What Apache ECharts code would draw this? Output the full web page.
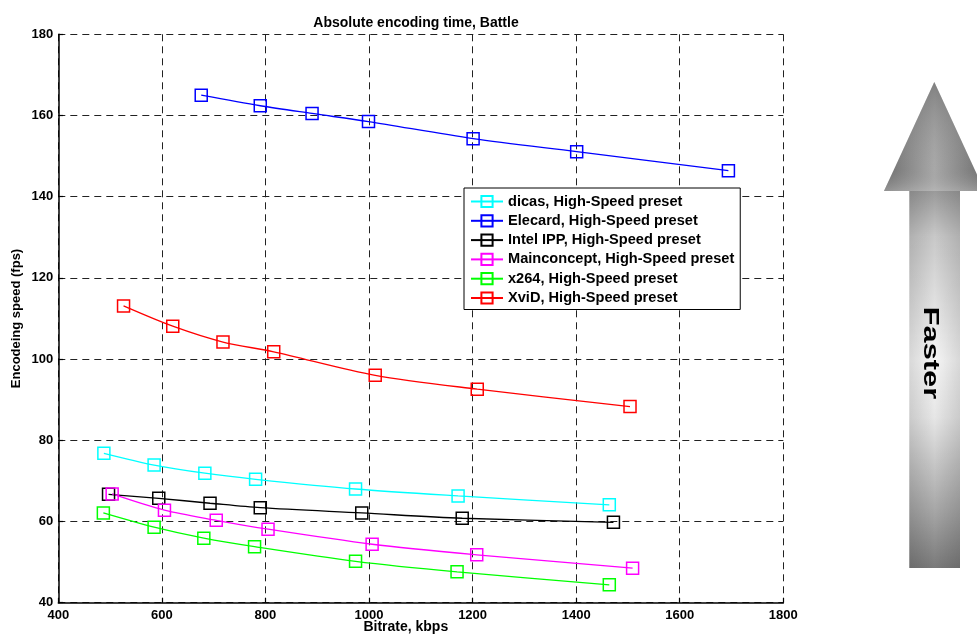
<!DOCTYPE html>
<html>
<head>
<meta charset="utf-8">
<script src="https://cdn.jsdelivr.net/npm/echarts@6/dist/echarts.min.js"></script>
<style>html,body{margin:0;padding:0;background:#fff;}#c{width:977px;height:637px;}</style>
</head>
<body>
<div id="c"></div>
<script>
var FONT = '"Liberation Sans", Arial, Helvetica, sans-serif';
var titleText = 'Absolute encoding time, Battle';
var xName = 'Bitrate, kbps';
var yName = 'Encodeing speed (fps)';
var arrowText = 'Faster';
var seriesNames = ['dicas, High-Speed preset','Elecard, High-Speed preset','Intel IPP, High-Speed preset','Mainconcept, High-Speed preset','x264, High-Speed preset','XviD, High-Speed preset'];
var seriesColors = ['#00ffff','#0000ff','#000000','#ff00ff','#00ff00','#ff0000'];

var dicasX = [488, 585, 683, 781, 974, 1172, 1464];
var dicasY = [76.8, 73.9, 71.9, 70.4, 68.0, 66.3, 64.1];
var elecardX = [676, 790, 890, 999, 1201, 1401, 1694];
var elecardY = [165.0, 162.4, 160.5, 158.5, 154.3, 151.1, 146.4];
var intelX = [497, 594, 693, 790, 986, 1180, 1472];
var intelY = [66.7, 65.7, 64.5, 63.4, 62.1, 60.8, 59.8];
var mainX = [504, 605, 705, 805, 1006, 1208, 1509];
var mainY = [66.8, 62.8, 60.3, 58.1, 54.4, 51.8, 48.5];
var x264X = [487, 585, 681, 779, 974, 1170, 1464];
var x264Y = [62.1, 58.6, 55.9, 53.8, 50.2, 47.6, 44.4];
var xvidX = [526, 621, 718, 816, 1012, 1209, 1504];
var xvidY = [113.1, 108.1, 104.2, 101.8, 96.0, 92.6, 88.3];

var allX = [dicasX, elecardX, intelX, mainX, x264X, xvidX];
var allY = [dicasY, elecardY, intelY, mainY, x264Y, xvidY];

function pairs(xs, ys){ return xs.map(function(x,i){ return [x, ys[i]]; }); }

var series = seriesNames.map(function(n, k){
  return {
    name: n, type: 'line', data: pairs(allX[k], allY[k]),
    smooth: 0.3, symbol: 'rect', symbolSize: 12,
    lineStyle: {color: seriesColors[k], width: 1.3},
    itemStyle: {color: 'rgba(255,255,255,0)', borderColor: seriesColors[k], borderWidth: 1.5},
    emphasis: {disabled: true}, animation: false
  };
});

var chart = echarts.init(document.getElementById('c'), null, {renderer: 'canvas'});
var axisCommon = {
  axisLine: {show: true, lineStyle: {color: '#000', width: 1.5}},
  axisTick: {show: true, inside: true, length: 5, lineStyle: {color: '#000', width: 1.2}},
  axisLabel: {color: '#000', fontFamily: FONT, fontWeight: 'bold', fontSize: 13,
    formatter: function(v){ return String(v); }},
  splitLine: {show: true, lineStyle: {color: '#222', width: 1, type: [7, 5]}},
  nameTextStyle: {color: '#000', fontFamily: FONT, fontWeight: 'bold', fontSize: 13},
  nameMoveOverlap: false
};
chart.setOption({
  backgroundColor: '#fff',
  animation: false,
  title: {text: titleText, left: 411, textAlign: 'center', top: 11,
    textStyle: {fontFamily: FONT, fontWeight: 'bold', fontSize: 14, color: '#000'}},
  grid: {left: 58.3, right: 193.7, top: 34.3, bottom: 34.3, containLabel: false, outerBoundsMode: 'none'},
  xAxis: Object.assign({}, axisCommon, {
    type: 'value', min: 400, max: 1800, interval: 200,
    name: xName, nameLocation: 'middle', nameGap: 17,
    nameTextStyle: {color: '#000', fontFamily: FONT, fontWeight: 'bold', fontSize: 14, padding: [0, 30, 0, 0]},
    axisLabel: Object.assign({}, axisCommon.axisLabel, {margin: 6})
  }),
  yAxis: Object.assign({}, axisCommon, {
    type: 'value', min: 40, max: 180, interval: 20,
    name: yName, nameLocation: 'middle', nameGap: 35,
    axisLabel: Object.assign({}, axisCommon.axisLabel, {margin: 5})
  }),
  legend: {
    orient: 'vertical', left: 464, top: 188,
    backgroundColor: '#fff', borderColor: '#000', borderWidth: 1,
    padding: [6, 6, 4, 6], itemGap: 4.3, itemWidth: 32, itemHeight: 14,
    textStyle: {fontFamily: FONT, fontWeight: 'bold', fontSize: 14.6, color: '#000'},
    data: seriesNames
  },
  series: series,
  graphic: [
    {type: 'polygon', shape: {points: [[934.3, 82], [884, 191], [984.6, 191]]},
      style: {fill: new echarts.graphic.LinearGradient(0, 0, 1, 0, [
        {offset: 0, color: '#6f6f6f'}, {offset: 0.5, color: '#a8a8a8'}, {offset: 1, color: '#6f6f6f'}])}},
    {type: 'polygon', shape: {points: [[934.3, 82], [884, 191], [984.6, 191]]},
      style: {fill: new echarts.graphic.LinearGradient(0, 0, 0, 1, [
        {offset: 0, color: 'rgba(90,90,90,0.5)'}, {offset: 0.8, color: 'rgba(150,150,150,0)'}, {offset: 1, color: 'rgba(200,200,200,0.4)'}])}},
    {type: 'rect', shape: {x: 909.3, y: 191, width: 50.7, height: 377},
      style: {fill: new echarts.graphic.LinearGradient(0, 0, 0, 1, [
        {offset: 0, color: '#9a9a9a'}, {offset: 0.12, color: '#c8c8c8'}, {offset: 0.45, color: '#f6f6f6'},
        {offset: 0.6, color: '#e6e6e6'}, {offset: 0.85, color: '#a6a6a6'}, {offset: 1, color: '#7a7a7a'}])}},
    {type: 'rect', shape: {x: 909.3, y: 191, width: 50.7, height: 377},
      style: {fill: new echarts.graphic.LinearGradient(0, 0, 1, 0, [
        {offset: 0, color: 'rgba(0,0,0,0.12)'}, {offset: 0.5, color: 'rgba(0,0,0,0)'}, {offset: 1, color: 'rgba(0,0,0,0.12)'}])}},
    {type: 'text', x: 930, y: 353, rotation: -Math.PI / 2, scaleX: 1.4,
      style: {text: arrowText, fontFamily: FONT, fontWeight: 'bold', fontSize: 22, fill: '#000',
        align: 'center', verticalAlign: 'middle'}}
  ]
});
</script>
</body>
</html>
